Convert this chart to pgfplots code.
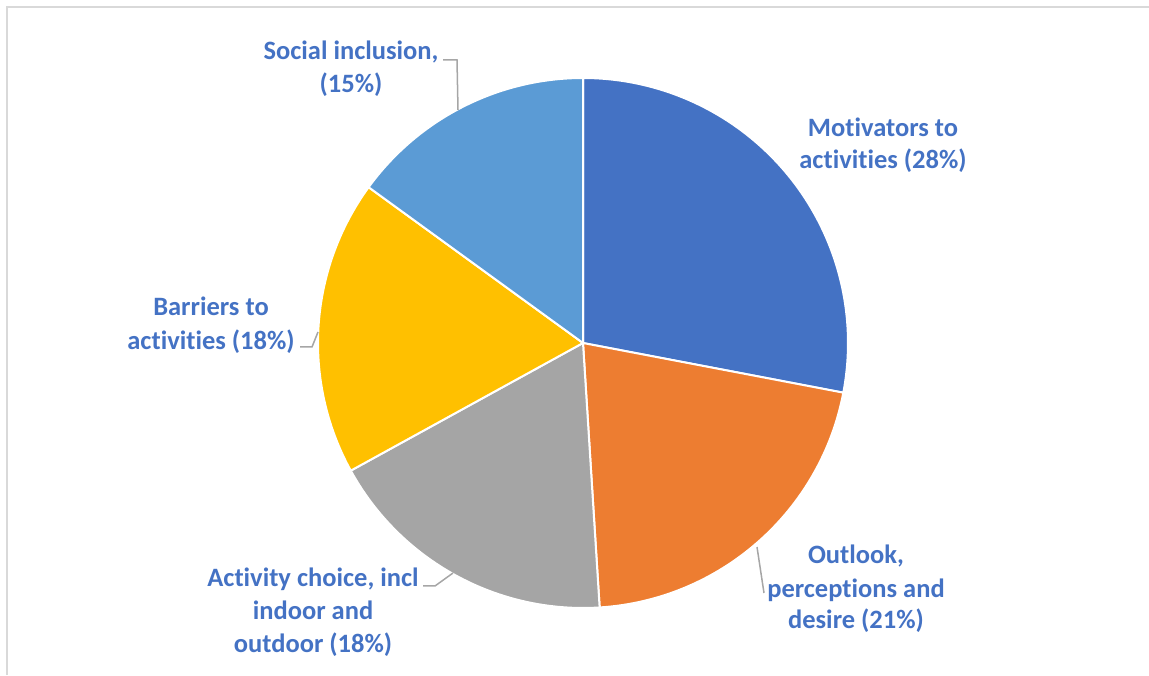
\documentclass[border=0pt]{standalone}
\usepackage{pgfplots}
\pgfplotsset{compat=1.18}
\usepackage{pgfplotstable}
\usepackage{fontspec}
\setmainfont{Carlito}[RawFeature={-liga;-clig;-dlig}]
\definecolor{pie0}{HTML}{4472C4}
\definecolor{pie1}{HTML}{ED7D31}
\definecolor{pie2}{HTML}{A5A5A5}
\definecolor{pie3}{HTML}{FFC000}
\definecolor{pie4}{HTML}{5B9BD5}
\definecolor{lblue}{HTML}{4472C4}
\definecolor{leader}{HTML}{A6A6A6}
\definecolor{frame}{HTML}{D9D9D9}
\tikzset{lbl/.style={font=\fontsize{26.5}{31}\selectfont\bfseries, text=lblue, anchor=base, inner sep=0pt}}

\pgfplotstableread{
value
28
21
18
18
15
}\piedata

\begin{document}
\begin{tikzpicture}
\useasboundingbox (0,0) rectangle (1149pt,675pt);
\def\cum{0}
\pgfplotsforeachungrouped \i in {0,...,4}{%
  \pgfplotstablegetelem{\i}{value}\of\piedata
  \pgfmathsetmacro\a{90-3.6*\cum}%
  \pgfmathsetmacro\cum{\cum+\pgfplotsretval}%
  \pgfmathsetmacro\b{90-3.6*\cum}%
  \expandafter\xdef\csname angA\i\endcsname{\a}%
  \expandafter\xdef\csname angB\i\endcsname{\b}%
}
\begin{axis}[
  at={(0,0)}, anchor=south west,
  width=1149pt, height=675pt, scale only axis,
  xmin=0, xmax=1149, ymin=0, ymax=675,
  hide axis, clip=false,
]
% frame
\draw[frame, line width=2pt] (axis cs:7,0) -- (axis cs:7,668) -- (axis cs:1149,668);
% pie
\pgfplotsinvokeforeach{0,...,4}{
  \fill[pie#1, draw=white, line width=2pt, line join=round]
    (axis cs:583,332) -- ++(\csname angA#1\endcsname:265pt)
    arc[start angle=\csname angA#1\endcsname, end angle=\csname angB#1\endcsname, radius=265pt] -- cycle;
}
% leaders
\draw[leader, line width=1.5pt] (axis cs:443,615) -- (axis cs:457,615) -- (axis cs:458,565);
\draw[leader, line width=1.5pt] (axis cs:300,328) -- (axis cs:312,328) -- (axis cs:318,343);
\draw[leader, line width=1.5pt] (axis cs:423,89) -- (axis cs:435,89) -- (axis cs:453,102);
\draw[leader, line width=1.5pt] (axis cs:757,128) -- (axis cs:764,82);
% labels
\node[lbl] at (axis cs:351,615) {Social inclusion,};
\node[lbl] at (axis cs:351,582) {(15\%)};
\node[lbl] at (axis cs:883,538) {Motivators to};
\node[lbl] at (axis cs:883,506) {activities (28\%)};
\node[lbl] at (axis cs:211,359) {Barriers to};
\node[lbl] at (axis cs:211,325) {activities (18\%)};
\node[lbl] at (axis cs:313,88) {Activity choice, incl};
\node[lbl] at (axis cs:313,55) {indoor and};
\node[lbl] at (axis cs:313,23) {outdoor (18\%)};
\node[lbl] at (axis cs:856,111) {Outlook,};
\node[lbl] at (axis cs:856,77) {perceptions and};
\node[lbl] at (axis cs:856,46) {desire (21\%)};
\end{axis}
\end{tikzpicture}
\end{document}
